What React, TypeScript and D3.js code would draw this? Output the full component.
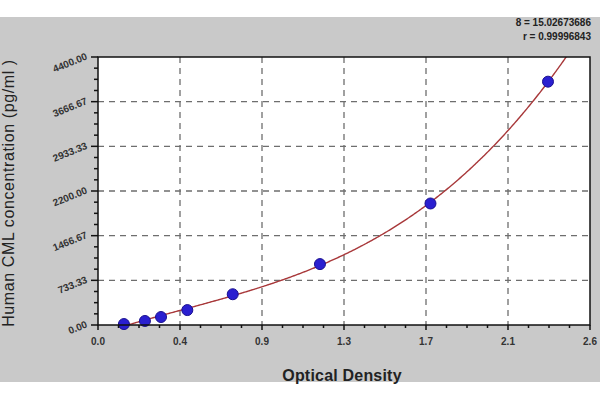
import React from "react";
import * as d3 from "d3";

const odValues = [0.137, 0.248, 0.333, 0.472, 0.712, 1.173, 1.757, 2.378];
const concValues = [15.6, 66, 131, 245, 505, 1000, 1995, 3995];
const yTickValues = [0, 733.33, 1466.67, 2200, 2933.33, 3666.67, 4400];
const yTickLabels = ["0.00", "733.33", "1466.67", "2200.00", "2933.33", "3666.67", "4400.00"];
const xTickValues = [0, 2.6 / 6, (2 * 2.6) / 6, (3 * 2.6) / 6, (4 * 2.6) / 6, (5 * 2.6) / 6, 2.6];
const xTickLabels = ["0.0", "0.4", "0.9", "1.3", "1.7", "2.1", "2.6"];
const statLines = ["8 = 15.02673686", "r = 0.99996843"];
const xTitle = "Optical Density";
const yTitle = "Human CML concentration (pg/ml )";

function cubicFit(xs: number[], ys: number[]) {
  const n = 4;
  const A = Array.from({ length: n }, () => new Array(n + 1).fill(0));
  xs.forEach((x, k) => {
    for (let i = 0; i < n; i++) {
      for (let j = 0; j < n; j++) A[i][j] += Math.pow(x, i + j);
      A[i][n] += ys[k] * Math.pow(x, i);
    }
  });
  for (let c = 0; c < n; c++) {
    let p = c;
    for (let r = c + 1; r < n; r++) if (Math.abs(A[r][c]) > Math.abs(A[p][c])) p = r;
    [A[c], A[p]] = [A[p], A[c]];
    for (let r = 0; r < n; r++) {
      if (r === c) continue;
      const f = A[r][c] / A[c][c];
      for (let k = c; k <= n; k++) A[r][k] -= f * A[c][k];
    }
  }
  const coef = A.map((row, i) => row[n] / row[i]);
  return (x: number) => coef[0] + coef[1] * x + coef[2] * x * x + coef[3] * x * x * x;
}

export default function App() {
  const W = 600, H = 400;
  const L = 98, R = 590, T = 57, B = 325;
  const x = d3.scaleLinear().domain([0, 2.6]).range([L, R]);
  const y = d3.scaleLinear().domain([0, 4400]).range([B, T]);
  const f = cubicFit(odValues, concValues);
  const x0 = odValues[0] - 0.02;
  const curvePts: [number, number][] = d3.range(0, 401).map((i) => {
    const xv = x0 + ((2.6 - x0) * i) / 400;
    return [xv, f(xv)];
  });
  const line = d3.line<[number, number]>().x((d) => x(d[0])).y((d) => y(d[1]));

  const xMinor: number[] = [];
  for (let i = 0; i < 6; i++) for (let k = 1; k < 4; k++) xMinor.push(xTickValues[i] + ((xTickValues[i + 1] - xTickValues[i]) * k) / 4);
  const yMinor: number[] = [];
  for (let i = 0; i < 6; i++) for (let k = 1; k < 4; k++) yMinor.push(yTickValues[i] + ((yTickValues[i + 1] - yTickValues[i]) * k) / 4);

  const font = "Arial, 'Liberation Sans', sans-serif";
  return (
    <svg width={W} height={H} style={{ position: "absolute", left: 0, top: 0 }} fontFamily={font}>
      <rect x={0} y={0} width={W} height={H} fill="#ffffff" />
      <rect x={0} y={17} width={W} height={365} fill="#c9c9c9" />
      <defs>
        <clipPath id="plotclip">
          <rect x={L} y={T} width={R - L} height={B - T} />
        </clipPath>
      </defs>
      <rect x={L} y={T} width={R - L} height={B - T} fill="#ffffff" />
      {xTickValues.slice(1, -1).map((v, i) => (
        <line key={"gx" + i} x1={x(v)} x2={x(v)} y1={T} y2={B} stroke="#6e6e6e" strokeWidth={1.3} strokeDasharray="6,5" />
      ))}
      {yTickValues.slice(1, -1).map((v, i) => (
        <line key={"gy" + i} x1={L} x2={R} y1={y(v)} y2={y(v)} stroke="#6e6e6e" strokeWidth={1.3} strokeDasharray="6,5" />
      ))}
      <path d={line(curvePts) || ""} fill="none" stroke="#a8383a" strokeWidth={1.4} clipPath="url(#plotclip)" />
      {odValues.map((v, i) => (
        <circle key={"p" + i} cx={x(v)} cy={y(concValues[i])} r={5.5} fill="#2a1fd0" stroke="#1a1090" strokeWidth={1} />
      ))}
      <rect x={L} y={T} width={R - L} height={B - T} fill="none" stroke="#111" strokeWidth={1.5} />
      {xTickValues.map((v, i) => (
        <line key={"xt" + i} x1={x(v)} x2={x(v)} y1={B} y2={B + 5} stroke="#111" strokeWidth={1.5} />
      ))}
      {xMinor.map((v, i) => (
        <line key={"xm" + i} x1={x(v)} x2={x(v)} y1={B} y2={B + 3} stroke="#111" strokeWidth={1.5} />
      ))}
      {yTickValues.map((v, i) => (
        <line key={"yt" + i} x1={L - 7} x2={L} y1={y(v)} y2={y(v)} stroke="#111" strokeWidth={1.5} />
      ))}
      {yMinor.map((v, i) => (
        <line key={"ym" + i} x1={L - 4} x2={L} y1={y(v)} y2={y(v)} stroke="#111" strokeWidth={1.5} />
      ))}
      {xTickLabels.map((t, i) => (
        <text key={"xl" + i} x={x(xTickValues[i])} y={B + 20} textAnchor="middle" fontSize={10} fontWeight="bold" fill="#333">
          {t}
        </text>
      ))}
      {yTickLabels.map((t, i) => (
        <text
          key={"yl" + i}
          transform={`translate(${L - 10},${y(yTickValues[i]) + 2}) rotate(-22)`}
          textAnchor="end"
          fontSize={10}
          fontWeight="bold"
          fill="#333"
        >
          {t}
        </text>
      ))}
      <text x={(L + R) / 2 - 2} y={381} textAnchor="middle" fontSize={16} fontWeight="bold" fill="#222" letterSpacing={0.2}>
        {xTitle}
      </text>
      <text
        transform={`translate(14,${(T + B) / 2 + 2}) rotate(-90)`}
        textAnchor="middle"
        fontSize={16}
        fill="#222"
        letterSpacing={0.6}
      >
        {yTitle}
      </text>
      {statLines.map((s, i) => (
        <text key={"s" + i} x={591} y={26 + i * 14} textAnchor="end" fontSize={10} fontWeight="bold" fill="#222">
          {s}
        </text>
      ))}
    </svg>
  );
}
